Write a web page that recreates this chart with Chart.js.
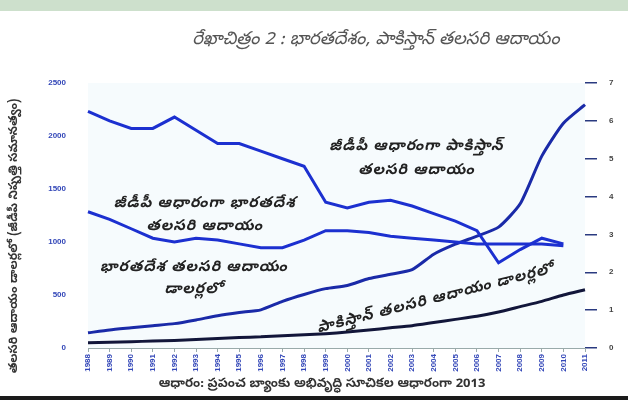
<!DOCTYPE html>
<html>
<head>
<meta charset="utf-8">
<script src="https://cdn.jsdelivr.net/npm/chart.js@4"></script>
<style>
  body{margin:0;background:#fff;}
  #wrap{position:relative;width:628px;height:406px;overflow:hidden;background:#fff;}
  #band{position:absolute;left:0;top:0;width:628px;height:11px;background:#cde0cc;}
  #rule{position:absolute;left:0;top:396px;width:628px;height:4px;background:#1b1b1b;}
  canvas{position:absolute;left:0;top:0;}
</style>
</head>
<body>
<div id="wrap">
  <div id="band"></div>
  <canvas id="chartLineas" width="628" height="406"></canvas>
  <div id="rule"></div>
</div>
<script>
const years = ['1988','1989','1990','1991','1992','1993','1994','1995','1996','1997','1998','1999',
               '2000','2001','2002','2003','2004','2005','2006','2007','2008','2009','2010','2011'];
// ratios (right axis)
const pakRatio = [6.25,6.0,5.8,5.8,6.1,5.75,5.4,5.4,5.2,5.0,4.8,3.85,3.7,3.85,3.9,3.75,3.55,3.35,3.1,2.25,2.6,2.9,2.75,null];
const indRatio = [3.6,3.4,3.15,2.9,2.8,2.9,2.85,2.75,2.65,2.65,2.85,3.1,3.1,3.05,2.95,2.9,2.85,2.8,2.75,2.75,2.75,2.75,2.7,null];
// per capita income in dollars (left axis)
const indIncome = [143,170,190,210,230,265,305,335,360,440,505,560,590,655,695,740,885,980,1055,1140,1360,1810,2120,2295];
const pakIncome = [50,55,60,65,70,80,90,100,105,115,125,135,150,170,190,210,240,270,300,340,390,440,500,550];
const leftTicks = [0,500,1000,1500,2000,2500];
const rightTicks = [0,1,2,3,4,5,6,7];

const txtFont = '"Noto Sans Telugu","Noto Sans","DejaVu Sans",sans-serif';

const textos = {
    id:'textos',
    beforeDraw(c){
        const a = c.chartArea, ctx = c.ctx;
        ctx.save();
        ctx.fillStyle = '#f6fbfd';
        ctx.fillRect(a.left, a.top, a.right - a.left, a.bottom - a.top);
        ctx.restore();
    },
    afterDraw(c){
        const ctx = c.ctx, x = c.scales.x, y = c.scales.y;
        const px = v => x.getPixelForDecimal(v / (years.length - 1));
        ctx.save();
        ctx.textAlign = 'center';
        ctx.textBaseline = 'middle';
        // title
        ctx.fillStyle = '#555';
        ctx.font = 'italic 18px ' + txtFont;
        ctx.fillText('రేఖాచిత్రం 2 : భారతదేశం, పాకిస్తాన్ తలసరి ఆదాయం', 376, 41);
        // annotations
        ctx.fillStyle = '#222';
        ctx.font = 'italic bold 15px ' + txtFont;
        ctx.letterSpacing = '1px';
        ctx.fillText('జీడీపీ ఆధారంగా పాకిస్తాన్', px(15.2), y.getPixelForValue(1890));
        ctx.fillText('తలసరి ఆదాయం', px(15.2), y.getPixelForValue(1660));
        ctx.fillText('జీడీపీ ఆధారంగా భారతదేశ', px(5.4), y.getPixelForValue(1350));
        ctx.fillText('తలసరి ఆదాయం', px(5.4), y.getPixelForValue(1130));
        ctx.fillText('భారతదేశ తలసరి ఆదాయం', px(4.9), y.getPixelForValue(750));
        ctx.fillText('డాలర్లలో', px(4.9), y.getPixelForValue(540));
        ctx.save();
        ctx.translate(px(16.1), y.getPixelForValue(450));
        ctx.rotate(-0.25);
        ctx.font = 'italic bold 15px ' + txtFont;
        ctx.fillText('పాకిస్తాన్ తలసరి ఆదాయం డాలర్లలో', 0, 0);
        ctx.restore();
        ctx.letterSpacing = '0px';
        // y title
        ctx.save();
        ctx.translate(15, 236);
        ctx.rotate(-Math.PI / 2);
        ctx.font = 'bold 12px ' + txtFont;
        ctx.fillStyle = '#333';
        ctx.fillText('తలసరి ఆదాయం డాలర్లలో (జీడీపీ నిష్పత్తి సమానత్వం)', 0, 0);
        ctx.restore();
        // source
        ctx.font = 'bold 13px ' + txtFont;
        ctx.fillStyle = '#333';
        ctx.fillText('ఆధారం: ప్రపంచ బ్యాంకు అభివృద్ధి సూచికల ఆధారంగా 2013', 322, 385);
        ctx.restore();
    }
};

new Chart(document.getElementById('chartLineas'),{
    type:'line',
    data:{
        labels: years,
        datasets:[
            {label:'pakRatio',data: pakRatio,yAxisID:'y2',borderColor:'#1c30d0',borderWidth:3,pointRadius:0,tension:0},
            {label:'indRatio',data: indRatio,yAxisID:'y2',borderColor:'#1c30d0',borderWidth:3,pointRadius:0,tension:0},
            {label:'indIncome',data: indIncome,yAxisID:'y',borderColor:'#1a2aa8',borderWidth:3,pointRadius:0,tension:0.2},
            {label:'pakIncome',data: pakIncome,yAxisID:'y',borderColor:'#12163a',borderWidth:3,pointRadius:0,tension:0.2}
        ]
    },
    options:{
        responsive:false,animation:false,
        layout:{padding:{top:83,left:28,right:0,bottom:30}},
        plugins:{legend:{display:false},tooltip:{enabled:false}},
        scales:{
            x:{
                offset:false,
                afterFit(s){ s.height = 28; },
                grid:{drawOnChartArea:false,tickLength:4,color:'#9aa'},
                border:{color:'#9aa'},
                ticks:{autoSkip:false,maxRotation:90,minRotation:90,padding:2,color:'#3347b8',font:{size:8,weight:'bold'}}
            },
            y:{
                position:'left',min:0,max:2500,
                afterFit(s){ s.width = 60; },
                afterBuildTicks(s){ s.ticks = leftTicks.map(v => ({value:v})); },
                grid:{display:false},
                border:{display:false},
                ticks:{padding:14,color:'#3347b8',font:{size:8,weight:'bold'},callback:v => String(v)}
            },
            y2:{
                position:'right',min:0,max:7,
                afterFit(s){ s.width = 43; },
                afterBuildTicks(s){ s.ticks = rightTicks.map(v => ({value:v})); },
                grid:{drawOnChartArea:false,tickLength:12,color:'#2a3a80',lineWidth:1.5},
                border:{display:false},
                ticks:{padding:12,color:'#444',font:{size:8,weight:'bold'}}
            }
        }
    },
    plugins:[textos]
});
</script>
</body>
</html>
